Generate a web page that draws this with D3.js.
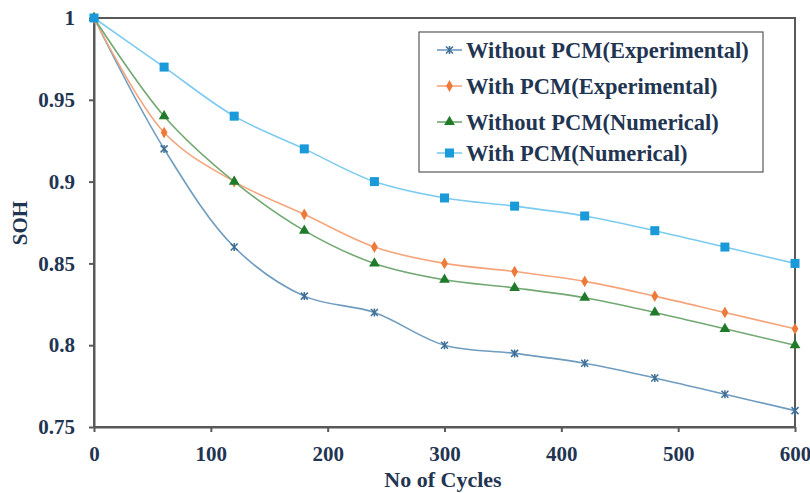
<!DOCTYPE html>
<html><head><meta charset="utf-8">
<script src="https://cdn.jsdelivr.net/npm/d3@7"></script>
<style>body{margin:0;background:#fff}text{font-family:"Liberation Serif","Times New Roman",serif;font-weight:bold;fill:#1f3552}</style>
</head><body><svg id="c" width="810" height="493"></svg>
<script>
const cycles = [0, 60, 120, 180, 240, 300, 360, 420, 480, 540, 600];
const withoutPcmExp = [1, 0.92, 0.86, 0.83, 0.82, 0.80, 0.795, 0.789, 0.78, 0.77, 0.76];
const withPcmExp = [1, 0.93, 0.90, 0.88, 0.86, 0.85, 0.845, 0.839, 0.83, 0.82, 0.81];
const withoutPcmNum = [1, 0.94, 0.90, 0.87, 0.85, 0.84, 0.835, 0.829, 0.82, 0.81, 0.80];
const withPcmNum = [1, 0.97, 0.94, 0.92, 0.90, 0.89, 0.885, 0.879, 0.87, 0.86, 0.85];
const seriesNames = ["Without PCM(Experimental)", "With PCM(Experimental)", "Without PCM(Numerical)", "With PCM(Numerical)"];
const xTicks = [0, 100, 200, 300, 400, 500, 600];
const yTicks = [0.75, 0.8, 0.85, 0.9, 0.95, 1];

const series = [
  {name: seriesNames[0], values: withoutPcmExp, line: "#6f9cbf", mark: "#3f6f96", shape: "x"},
  {name: seriesNames[1], values: withPcmExp, line: "#f5a57c", mark: "#ee7a3a", shape: "diamond"},
  {name: seriesNames[2], values: withoutPcmNum, line: "#72a872", mark: "#1f7a2a", shape: "tri"},
  {name: seriesNames[3], values: withPcmNum, line: "#7ccbef", mark: "#1a9ad8", shape: "sq"}
];

const svg = d3.select("#c");
const L = 94, R = 795, T = 18, B = 427;
const x = d3.scaleLinear().domain([0, 600]).range([L, R]);
const y = d3.scaleLinear().domain([0.75, 1]).range([B, T]);

svg.append("rect").attr("x", L).attr("y", T).attr("width", R - L).attr("height", B - T)
  .attr("fill", "none").attr("stroke", "#595959").attr("stroke-width", 2);

const xa = svg.append("g").attr("transform", `translate(0,${B})`)
  .call(d3.axisBottom(x).tickValues(xTicks).tickSize(5).tickSizeOuter(0).tickPadding(14).tickFormat(d3.format("d")));
const ya = svg.append("g").attr("transform", `translate(${L},0)`)
  .call(d3.axisLeft(y).tickValues(yTicks).tickSize(5).tickSizeOuter(0).tickPadding(14).tickFormat(d => d === 1 ? "1" : String(d)));
[xa, ya].forEach(g => {
  g.select(".domain").attr("stroke", "#595959").attr("stroke-width", 2);
  g.selectAll(".tick line").attr("stroke", "#595959").attr("stroke-width", 2);
  g.selectAll(".tick text").style("font-size", "21px").attr("fill", "#1f3552");
});

svg.append("text").attr("x", 443).attr("y", 487).attr("text-anchor", "middle").style("font-size", "22px").text("No of Cycles");
svg.append("text").attr("transform", `translate(27,223) rotate(-90)`).attr("text-anchor", "middle").style("font-size", "21px").text("SOH");

const line = d3.line().x((d, i) => x(cycles[i])).y(d => y(d)).curve(d3.curveCatmullRom.alpha(0.5));

function marker(g, s, cx, cy) {
  if (s.shape === "x") {
    const r = 3.5;
    g.append("path").attr("d", `M${cx - r},${cy - r}L${cx + r},${cy + r}M${cx - r},${cy + r}L${cx + r},${cy - r}M${cx},${cy - r - 0.5}L${cx},${cy + r + 0.5}`)
      .attr("stroke", s.mark).attr("stroke-width", 1.5).attr("fill", "none");
  } else if (s.shape === "diamond") {
    g.append("path").attr("d", d3.symbol(d3.symbolDiamond, 40)()).attr("transform", `translate(${cx},${cy})`).attr("fill", s.mark);
  } else if (s.shape === "tri") {
    g.append("path").attr("d", d3.symbol(d3.symbolTriangle, 50)()).attr("transform", `translate(${cx},${cy})`).attr("fill", s.mark);
  } else {
    g.append("rect").attr("x", cx - 4.5).attr("y", cy - 4.5).attr("width", 9).attr("height", 9).attr("fill", s.mark);
  }
}

series.forEach(s => {
  const g = svg.append("g");
  g.append("path").datum(s.values).attr("d", line).attr("fill", "none").attr("stroke", s.line).attr("stroke-width", 1.6);
  s.values.forEach((v, i) => marker(g, s, x(cycles[i]), y(v)));
});

const lg = svg.append("g");
lg.append("rect").attr("x", 419).attr("y", 32).attr("width", 344).attr("height", 140)
  .attr("fill", "#fff").attr("stroke", "#595959").attr("stroke-width", 1.2);
const ly = [50, 86, 122, 153];
series.forEach((s, i) => {
  lg.append("line").attr("x1", 437).attr("x2", 462).attr("y1", ly[i]).attr("y2", ly[i]).attr("stroke", s.line).attr("stroke-width", 1.6);
  marker(lg, s, 449.5, ly[i]);
  lg.append("text").attr("x", 466).attr("y", ly[i]).attr("dy", "0.35em").style("font-size", "22.5px").text(s.name);
});
</script></body></html>
